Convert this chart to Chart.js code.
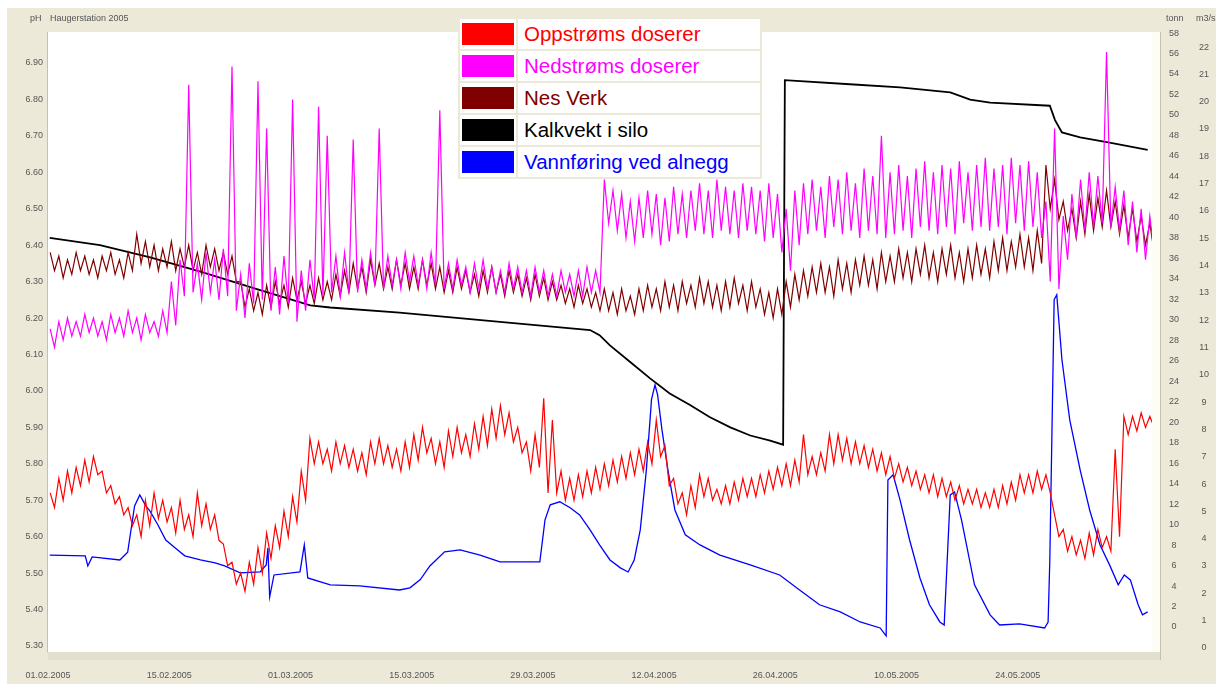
<!DOCTYPE html>
<html>
<head>
<meta charset="utf-8">
<script src="https://cdn.jsdelivr.net/npm/chart.js@4.4.0/dist/chart.umd.min.js"></script>
<style>
  body { margin: 0; background: #fff; }
  #wrap { position: relative; width: 1216px; height: 684px; }
  #legend { position: absolute; left: 458px; top: 17px; border-collapse: separate;
    border-spacing: 2px; background: #ece9d8; font: 20.5px "Liberation Sans", Arial, sans-serif; }
  #legend td { background: #fff; height: 30px; padding: 0; }
  #legend td.sw { width: 56px; }
  #legend td.sw div { margin: 0 2px; height: 22px; }
  #legend td.tx { width: 236px; padding-left: 6px; white-space: nowrap; }
</style>
</head>
<body>
<div id="wrap">
  <canvas id="chart" width="1216" height="684"></canvas>
  <table id="legend"></table>
</div>
<script>
// x = days after 01.02.2005
const dateDays = [0, 14, 28, 42, 56, 70, 84, 98, 112];
const dateLabels = ["01.02.2005", "15.02.2005", "01.03.2005", "15.03.2005", "29.03.2005",
  "12.04.2005", "26.04.2005", "10.05.2005", "24.05.2005"];
const phTicks = [5.3, 5.4, 5.5, 5.6, 5.7, 5.8, 5.9, 6.0, 6.1, 6.2, 6.3, 6.4, 6.5, 6.6, 6.7, 6.8, 6.9];
const tonnTicks = [0, 2, 4, 6, 8, 10, 12, 14, 16, 18, 20, 22, 24, 26, 28, 30, 32, 34, 36, 38,
  40, 42, 44, 46, 48, 50, 52, 54, 56, 58];
const flowTicks = [0, 1, 2, 3, 4, 5, 6, 7, 8, 9, 10, 11, 12, 13, 14, 15, 16, 17, 18, 19, 20, 21, 22];

// pH, daily high / low (one value per day)
const redHi = [5.72,5.76,5.78,5.79,5.81,5.82,5.78,5.74,5.71,5.68, 5.66,5.70,5.72,5.70,5.68,5.70,5.66,5.72,5.69,5.66,
  5.58,5.53,5.50,5.53,5.57,5.61,5.63,5.67,5.71,5.78, 5.87,5.86,5.84,5.86,5.85,5.84,5.83,5.86,5.87,5.85,
  5.84,5.86,5.88,5.90,5.87,5.86,5.89,5.90,5.88,5.91, 5.93,5.95,5.96,5.94,5.90,5.86,5.88,5.98,5.92,5.78,
  5.76,5.77,5.78,5.79,5.80,5.81,5.82,5.83,5.84,5.86, 5.92,5.85,5.76,5.72,5.74,5.77,5.76,5.73,5.74,5.75,
  5.76,5.76,5.77,5.78,5.79,5.80,5.81,5.88,5.82,5.83, 5.88,5.88,5.87,5.86,5.85,5.84,5.83,5.82,5.80,5.79,
  5.78,5.77,5.77,5.76,5.75,5.74,5.73,5.73,5.72,5.73, 5.74,5.75,5.77,5.77,5.78,5.77,5.66,5.62,5.60,5.59,
  5.61,5.62,5.60,5.84,5.93,5.93,5.94,5.93];
const redLo = [5.68,5.70,5.72,5.74,5.75,5.77,5.72,5.69,5.66,5.63, 5.60,5.63,5.65,5.64,5.61,5.62,5.60,5.63,5.62,5.59,
  5.52,5.47,5.45,5.47,5.50,5.54,5.57,5.60,5.64,5.70, 5.80,5.80,5.78,5.80,5.79,5.78,5.77,5.80,5.80,5.79,
  5.78,5.79,5.81,5.83,5.80,5.79,5.82,5.83,5.82,5.84, 5.85,5.87,5.88,5.86,5.83,5.78,5.79,5.72,5.72,5.70,
  5.70,5.71,5.72,5.73,5.74,5.75,5.76,5.77,5.78,5.80, 5.82,5.74,5.69,5.66,5.68,5.71,5.70,5.69,5.69,5.70,
  5.71,5.71,5.72,5.73,5.74,5.74,5.75,5.77,5.77,5.78, 5.80,5.81,5.80,5.80,5.79,5.78,5.77,5.76,5.75,5.74,
  5.73,5.72,5.71,5.71,5.70,5.69,5.69,5.68,5.68,5.68, 5.69,5.70,5.72,5.72,5.73,5.72,5.60,5.56,5.55,5.54,
  5.55,5.57,5.56,5.60,5.88,5.89,5.90,5.90];

const pinkHi = [6.17,6.19,6.20,6.19,6.21,6.20,6.19,6.21,6.20,6.22, 6.20,6.21,6.19,6.22,6.30,6.36,6.84,6.35,6.38,6.36,
  6.39,6.89,6.32,6.35,6.85,6.72,6.34,6.37,6.80,6.33, 6.36,6.78,6.70,6.37,6.38,6.69,6.36,6.38,6.72,6.37,
  6.36,6.38,6.37,6.36,6.38,6.77,6.35,6.36,6.34,6.35, 6.36,6.34,6.33,6.35,6.34,6.33,6.34,6.33,6.32,6.33,
  6.32,6.33,6.34,6.33,6.58,6.55,6.54,6.52,6.53,6.55, 6.54,6.53,6.56,6.54,6.55,6.57,6.55,6.58,6.56,6.55,
  6.57,6.56,6.55,6.57,6.54,6.50,6.55,6.57,6.58,6.56, 6.59,6.58,6.60,6.57,6.61,6.59,6.70,6.60,6.62,6.59,
  6.61,6.63,6.60,6.62,6.61,6.63,6.60,6.62,6.64,6.61, 6.62,6.64,6.62,6.63,6.60,6.52,6.72,6.48,6.54,6.58,
  6.60,6.59,6.93,6.56,6.55,6.52,6.50,6.48];
const pinkLo = [6.12,6.14,6.15,6.15,6.16,6.15,6.14,6.16,6.15,6.16, 6.14,6.16,6.15,6.16,6.18,6.26,6.27,6.25,6.27,6.25,
  6.26,6.22,6.20,6.24,6.25,6.22,6.21,6.24,6.19,6.22, 6.25,6.26,6.27,6.26,6.27,6.27,6.28,6.29,6.28,6.29,
  6.28,6.30,6.29,6.28,6.29,6.28,6.28,6.29,6.27,6.28, 6.28,6.27,6.27,6.28,6.27,6.26,6.27,6.26,6.26,6.27,
  6.26,6.26,6.27,6.27,6.46,6.44,6.42,6.41,6.42,6.43, 6.40,6.41,6.43,6.42,6.44,6.43,6.42,6.44,6.43,6.42,
  6.44,6.43,6.41,6.42,6.38,6.33,6.40,6.43,6.44,6.42, 6.45,6.43,6.44,6.42,6.44,6.43,6.42,6.43,6.44,6.42,
  6.45,6.44,6.43,6.45,6.43,6.46,6.44,6.45,6.44,6.45, 6.43,6.46,6.44,6.45,6.42,6.30,6.28,6.36,6.42,6.44,
  6.45,6.46,6.45,6.44,6.40,6.38,6.36,6.38];

const brownHi = [6.38,6.37,6.36,6.38,6.37,6.36,6.37,6.38,6.36,6.38, 6.43,6.41,6.40,6.39,6.41,6.39,6.40,6.38,6.40,6.39,
  6.38,6.37,6.30,6.28,6.27,6.29,6.30,6.29,6.31,6.30, 6.29,6.31,6.30,6.32,6.33,6.35,6.34,6.36,6.35,6.34,
  6.36,6.35,6.34,6.36,6.35,6.34,6.33,6.34,6.33,6.32, 6.33,6.34,6.32,6.33,6.32,6.31,6.32,6.31,6.30,6.29,
  6.28,6.29,6.28,6.27,6.28,6.27,6.28,6.26,6.28,6.29, 6.28,6.30,6.29,6.30,6.29,6.31,6.30,6.29,6.30,6.31,
  6.29,6.30,6.28,6.27,6.28,6.30,6.32,6.33,6.34,6.35, 6.34,6.36,6.35,6.36,6.37,6.36,6.38,6.37,6.39,6.38,
  6.39,6.40,6.38,6.39,6.40,6.38,6.39,6.40,6.39,6.41, 6.42,6.41,6.43,6.42,6.44,6.62,6.58,6.52,6.50,6.52,
  6.54,6.53,6.55,6.52,6.51,6.50,6.48,6.46];
const brownLo = [6.33,6.31,6.32,6.33,6.32,6.31,6.33,6.32,6.31,6.33, 6.35,6.34,6.33,6.34,6.33,6.34,6.33,6.32,6.34,6.33,
  6.32,6.30,6.23,6.22,6.21,6.23,6.24,6.23,6.25,6.24, 6.24,6.25,6.25,6.26,6.27,6.28,6.27,6.29,6.28,6.28,
  6.29,6.28,6.28,6.29,6.28,6.27,6.27,6.28,6.27,6.26, 6.27,6.27,6.26,6.27,6.26,6.25,6.26,6.25,6.25,6.24,
  6.23,6.24,6.23,6.22,6.22,6.21,6.22,6.21,6.22,6.23, 6.22,6.23,6.22,6.24,6.23,6.24,6.23,6.22,6.23,6.24,
  6.22,6.23,6.21,6.20,6.21,6.23,6.25,6.26,6.27,6.27, 6.26,6.28,6.27,6.29,6.29,6.28,6.30,6.30,6.31,6.30,
  6.32,6.31,6.30,6.32,6.31,6.30,6.31,6.32,6.31,6.33, 6.33,6.34,6.34,6.33,6.35,6.50,6.47,6.44,6.42,6.43,
  6.44,6.45,6.45,6.43,6.42,6.41,6.40,6.38];

// Kalkvekt i silo, tonn
const siloDays = [0.2, 6, 11.8, 17.6, 24.5, 30.3, 32.6, 40.6, 52.2, 62.6, 63.7, 64.9, 67.2, 69.5, 71.8,
  74.1, 76.4, 78.8, 81.1, 83.4, 84.9, 85.1, 92.6, 98.4, 104.2, 106.5, 108.8, 115.7, 116.3, 117.1,
  119.2, 122.6, 127];
const siloTonn = [38.0, 37.3, 36.1, 34.7, 32.9, 31.4, 31.2, 30.7, 29.8, 29.0, 28.5, 27.5, 25.9, 24.3, 22.8,
  21.7, 20.5, 19.5, 18.7, 18.2, 17.8, 53.4, 53.0, 52.7, 52.2, 51.5, 51.2, 50.9, 49.5, 48.3,
  47.8, 47.3, 46.6];

// Vannføring ved alnegg, m3/s
const flowDays = [0.2, 4.3, 4.6, 5.1, 8.3, 9.2, 10.0, 10.6, 11.3, 11.8, 12.7, 13.6, 14.7, 15.8, 17.6, 19.3,
  20.4, 22.2, 24.5, 25.2, 25.4, 25.6, 26.1, 29.1, 29.6, 30.0, 32.6, 36.0, 40.6, 41.8, 43.0, 44.1,
  45.8, 47.6, 49.9, 52.2, 56.8, 57.4, 58.0, 59.1, 60.3, 61.4, 62.6, 63.7, 64.9, 66.1, 67.0, 67.7,
  68.4, 69.1, 69.7, 70.1, 70.4, 70.9, 71.6, 72.4, 73.6, 75.3, 77.6, 81.1, 84.5, 86.8, 89.1, 91.5,
  93.8, 96.1, 96.8, 97.0, 97.6, 98.4, 99.5, 100.7, 101.8, 103.0, 103.5, 104.2, 104.7, 105.5, 107.0,
  108.8, 109.9, 112.2, 115.1, 115.5, 115.7, 116.2, 116.5, 117.1, 118.0, 119.2, 120.3, 121.5, 122.6,
  123.6, 124.3, 125.0, 125.9, 126.4, 127.0];
const flowM3s = [3.4, 3.37, 3.0, 3.33, 3.22, 3.5, 5.2, 5.6, 5.2, 5.0, 4.5, 3.95, 3.66, 3.37, 3.22, 3.11,
  3.0, 2.75, 2.78, 3.04, 3.66, 1.87, 2.67, 2.78, 3.77, 2.56, 2.31, 2.27, 2.12, 2.2, 2.5, 3.0,
  3.52, 3.59, 3.4, 3.15, 3.15, 4.69, 5.24, 5.35, 5.13, 4.87, 4.32, 3.77, 3.22, 2.93, 2.78, 3.22,
  4.32, 6.5, 9.1, 9.63, 9.27, 8.0, 6.5, 5.05, 4.14, 3.77, 3.4, 3.04, 2.67, 2.12, 1.58, 1.32,
  0.95, 0.73, 0.44, 6.15, 6.34, 5.42, 3.96, 2.56, 1.58, 0.95, 0.84, 5.6, 5.71, 4.69, 2.31,
  1.21, 0.84, 0.88, 0.73, 0.95, 3.22, 12.75, 12.93, 10.55, 8.35, 6.52, 5.05, 3.77, 3.04,
  2.31, 2.67, 2.49, 1.58, 1.21, 1.32];

function zigzag(hi, lo) {
  const pts = [];
  hi.forEach((h, d) => {
    pts.push({ x: d + 0.25, y: h });
    pts.push({ x: d + 0.75, y: lo[d] });
  });
  return pts;
}
function pairs(xs, ys) {
  return xs.map((x, i) => ({ x: x, y: ys[i] }));
}

const tickFont = { family: "Liberation Sans", size: 9 };
const tickColor = "#555";

const frame = {
  id: "frame",
  beforeDraw(chart) {
    const { ctx, chartArea: a } = chart;
    ctx.save();
    ctx.fillStyle = "#fff";
    ctx.fillRect(0, 0, chart.width, chart.height);
    ctx.fillStyle = "#ece9d8";
    ctx.fillRect(7, 8, chart.width - 7, chart.height - 8);
    ctx.fillStyle = "#e2dfcf";
    ctx.fillRect(a.left, a.bottom, a.right - a.left + 8, 8);
    ctx.fillStyle = "#fdfdf6";
    ctx.fillRect(a.right, a.top, 8, a.bottom - a.top);
    ctx.fillStyle = "#fff";
    ctx.fillRect(a.left, a.top, a.right - a.left, a.bottom - a.top);
    ctx.strokeStyle = "#c4c0b0";
    ctx.lineWidth = 1;
    ctx.beginPath();
    ctx.moveTo(a.left - 0.5, a.top);
    ctx.lineTo(a.left - 0.5, a.bottom + 0.5);
    ctx.moveTo(a.right + 8.5, a.top);
    ctx.lineTo(a.right + 8.5, a.bottom + 8);
    ctx.stroke();
    ctx.restore();
  },
  afterDraw(chart) {
    const ctx = chart.ctx;
    ctx.save();
    ctx.font = "9px 'Liberation Sans'";
    ctx.fillStyle = tickColor;
    ctx.textBaseline = "middle";
    ctx.fillText("pH", 30, 19);
    ctx.fillText("Haugerstation 2005", 50, 19);
    ctx.fillText("tonn", 1166, 19);
    ctx.fillText("m3/s", 1196, 19);
    ctx.restore();
  }
};

const series = [
  { label: "Oppstrøms doserer", color: "#ff0000", width: 1.2, data: zigzag(redHi, redLo), axis: "ph" },
  { label: "Nedstrøms doserer", color: "#ff00ff", width: 1.2, data: zigzag(pinkHi, pinkLo), axis: "ph" },
  { label: "Nes Verk", color: "#800000", width: 1.2, data: zigzag(brownHi, brownLo), axis: "ph" },
  { label: "Kalkvekt i silo", color: "#000000", width: 1.8, data: pairs(siloDays, siloTonn), axis: "tonn" },
  { label: "Vannføring ved alnegg", color: "#0000ff", width: 1.3, data: pairs(flowDays, flowM3s), axis: "flow" }
];

function fixedTicks(list) {
  return function (scale) { scale.ticks = list.map(v => ({ value: v })); };
}

new Chart(document.getElementById("chart"), {
  type: "line",
  data: {
    datasets: series.map(s => ({
      label: s.label,
      data: s.data,
      yAxisID: s.axis,
      borderColor: s.color,
      borderWidth: s.width,
      pointRadius: 0,
      tension: 0,
      fill: false
    }))
  },
  options: {
    responsive: false,
    animation: false,
    devicePixelRatio: 1,
    layout: { padding: { top: 32, left: 0, right: 0, bottom: 0 } },
    plugins: { legend: { display: false }, tooltip: { enabled: false } },
    scales: {
      x: {
        type: "linear", min: 0, max: 127.5,
        grid: { display: false }, border: { display: false },
        afterBuildTicks: fixedTicks(dateDays),
        afterFit(s) { s.height = 32; },
        ticks: {
          font: tickFont, color: tickColor, padding: 10, maxRotation: 0, autoSkip: false,
          callback: (v, i) => dateLabels[i]
        }
      },
      ph: {
        type: "linear", position: "left", min: 5.2835, max: 6.985,
        grid: { display: false, drawTicks: false }, border: { display: false },
        afterBuildTicks: fixedTicks(phTicks),
        afterFit(s) { s.width = 48; },
        ticks: { font: tickFont, color: tickColor, padding: 5, autoSkip: false, callback: v => v.toFixed(2) }
      },
      tonn: {
        type: "linear", position: "right", weight: 0, min: -2.44, max: 58.1,
        grid: { display: false, drawTicks: false }, border: { display: false },
        afterBuildTicks: fixedTicks(tonnTicks),
        afterFit(s) { s.width = 42; },
        ticks: { font: tickFont, color: tickColor, padding: 17, autoSkip: false, crossAlign: "center" }
      },
      flow: {
        type: "linear", position: "right", weight: 1, min: -0.15, max: 22.55,
        grid: { display: false, drawTicks: false }, border: { display: false },
        afterBuildTicks: fixedTicks(flowTicks),
        afterFit(s) { s.width = 22; },
        ticks: { font: tickFont, color: tickColor, padding: 5, autoSkip: false, crossAlign: "center" }
      }
    }
  },
  plugins: [frame]
});

const legend = document.getElementById("legend");
series.forEach(s => {
  const tr = document.createElement("tr");
  tr.innerHTML = '<td class="sw"><div style="background:' + s.color + '"></div></td>' +
    '<td class="tx" style="color:' + s.color + '">' + s.label + '</td>';
  legend.appendChild(tr);
});
</script>
</body>
</html>
